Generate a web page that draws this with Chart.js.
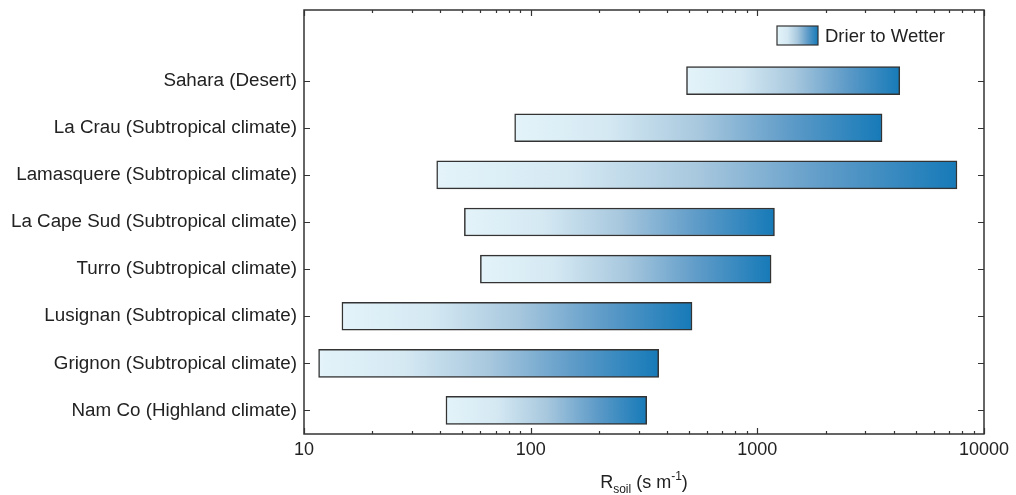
<!DOCTYPE html>
<html>
<head>
<meta charset="utf-8">
<script src="https://cdn.jsdelivr.net/npm/chart.js@4"></script>
<style>
  html, body { margin: 0; padding: 0; background: #fff; }
  #wrap { width: 1016px; height: 495px; }
</style>
</head>
<body>
<div id="wrap"><canvas id="chart" width="1016" height="495"></canvas></div>
<script>
const sites = [
    "Sahara (Desert)",
    "La Crau (Subtropical climate)",
    "Lamasquere (Subtropical climate)",
    "La Cape Sud (Subtropical climate)",
    "Turro (Subtropical climate)",
    "Lusignan (Subtropical climate)",
    "Grignon (Subtropical climate)",
    "Nam Co (Highland climate)",
];
const rsoilMin = [487, 85, 38.5, 51, 60, 14.7, 11.6, 42.3];
const rsoilMax = [4250, 3550, 7600, 1190, 1150, 515, 367, 325];
const xTickValues = [10, 100, 1000, 10000];
const legendText = "Drier to Wetter";

// empty slot on top of the y axis, like in the figure
const labels = [""].concat(sites);
const ranges = [null].concat(sites.map((s, i) => [rsoilMin[i], rsoilMax[i]]));

const FONT = '"Liberation Sans", Arial, sans-serif';
const INK = "#222";
const stops = [
    [0, "#e3f3f9"],
    [0.25, "#d5e9f3"],
    [0.5, "#a8c8de"],
    [0.75, "#5e9bc8"],
    [1, "#167ab8"],
];

function makeGradient(ctx, x0, x1) {
    const g = ctx.createLinearGradient(x0, 0, x1, 0);
    stops.forEach(([o, c]) => g.addColorStop(o, c));
    return g;
}

const framePlugin = {
    id: "frame",
    afterDraw(chart) {
        const {ctx, chartArea: a, scales} = chart;
        const xs = scales.x, ys = scales.y;
        ctx.save();
        ctx.strokeStyle = "#333";
        ctx.lineWidth = 1.5;
        ctx.strokeRect(a.left, a.top, a.right - a.left, a.bottom - a.top);

        // inward ticks on the log axis, top and bottom
        ctx.lineWidth = 1.2;
        ctx.beginPath();
        for (let d = 10; d <= 10000; d *= 10) {
            for (let m = 1; m <= 9; m++) {
                const v = d * m;
                if (v > 10000) break;
                const px = Math.round(xs.getPixelForValue(v)) + 0.5;
                const len = m === 1 ? 6 : 3;
                ctx.moveTo(px, a.bottom);
                ctx.lineTo(px, a.bottom - len);
                ctx.moveTo(px, a.top);
                ctx.lineTo(px, a.top + len);
            }
        }
        // inward ticks at each site, left and right
        sites.forEach((s) => {
            const py = Math.round(ys.getPixelForValue(labels.indexOf(s))) + 0.5;
            ctx.moveTo(a.left, py);
            ctx.lineTo(a.left + 6, py);
            ctx.moveTo(a.right, py);
            ctx.lineTo(a.right - 6, py);
        });
        ctx.stroke();

        // legend swatch
        const bx = a.right - 207, by = a.top + 16, bw = 41, bh = 19;
        ctx.fillStyle = makeGradient(ctx, bx, bx + bw);
        ctx.fillRect(bx, by, bw, bh);
        ctx.strokeStyle = "#333";
        ctx.lineWidth = 1.2;
        ctx.strokeRect(bx, by, bw, bh);
        ctx.fillStyle = INK;
        ctx.font = "18.5px " + FONT;
        ctx.textBaseline = "middle";
        ctx.textAlign = "left";
        ctx.fillText(legendText, bx + bw + 7, by + bh / 2 + 1);

        // x axis title: R_soil (s m^-1)
        const parts = [
            ["R", 18, 0],
            ["soil", 12, 5],
            [" (s m", 18, 0],
            ["-1", 12, -8],
            [")", 18, 0],
        ];
        let total = 0;
        parts.forEach(([t, sz]) => {
            ctx.font = sz + "px " + FONT;
            total += ctx.measureText(t).width;
        });
        let x = (a.left + a.right) / 2 - total / 2;
        const base = 488;
        ctx.textBaseline = "alphabetic";
        parts.forEach(([t, sz, dy]) => {
            ctx.font = sz + "px " + FONT;
            ctx.fillText(t, x, base + dy);
            x += ctx.measureText(t).width;
        });
        ctx.restore();
    },
};

new Chart(document.getElementById("chart"), {
    type: "bar",
    data: {
        labels: labels,
        datasets: [{
            data: ranges,
            borderSkipped: false,
            borderColor: "#333",
            borderWidth: 1.5,
            barThickness: 28,
            backgroundColor: (context) => {
                const chart = context.chart;
                const xs = chart.scales && chart.scales.x;
                const v = context.raw;
                if (!xs || !v || !chart.chartArea) return "#a8c8de";
                return makeGradient(chart.ctx, xs.getPixelForValue(v[0]), xs.getPixelForValue(v[1]));
            },
        }],
    },
    options: {
        indexAxis: "y",
        responsive: false,
        animation: false,
        layout: {padding: {top: 10, right: 32, left: 0, bottom: 0}},
        plugins: {
            legend: {display: false},
            tooltip: {enabled: false},
        },
        scales: {
            x: {
                type: "logarithmic",
                min: 10,
                max: 10000,
                afterBuildTicks: (scale) => {
                    scale.ticks = xTickValues.map((v) => ({value: v, major: true}));
                },
                afterFit: (scale) => {
                    scale.height = 61;
                    scale.paddingLeft = 0;
                    scale.paddingRight = 0;
                },
                grid: {display: false, drawTicks: false},
                border: {display: false},
                ticks: {
                    color: INK,
                    font: {size: 18, family: FONT},
                    padding: 5,
                    maxRotation: 0,
                    autoSkip: false,
                    callback: (v) => String(v),
                },
            },
            y: {
                type: "category",
                offset: true,
                afterFit: (scale) => {
                    scale.width = 304;
                    scale.paddingTop = 0;
                    scale.paddingBottom = 0;
                },
                grid: {display: false, drawTicks: false},
                border: {display: false},
                ticks: {
                    color: INK,
                    font: {size: 18.8, family: FONT},
                    padding: 7,
                    autoSkip: false,
                },
            },
        },
    },
    plugins: [framePlugin],
});
</script>
</body>
</html>
